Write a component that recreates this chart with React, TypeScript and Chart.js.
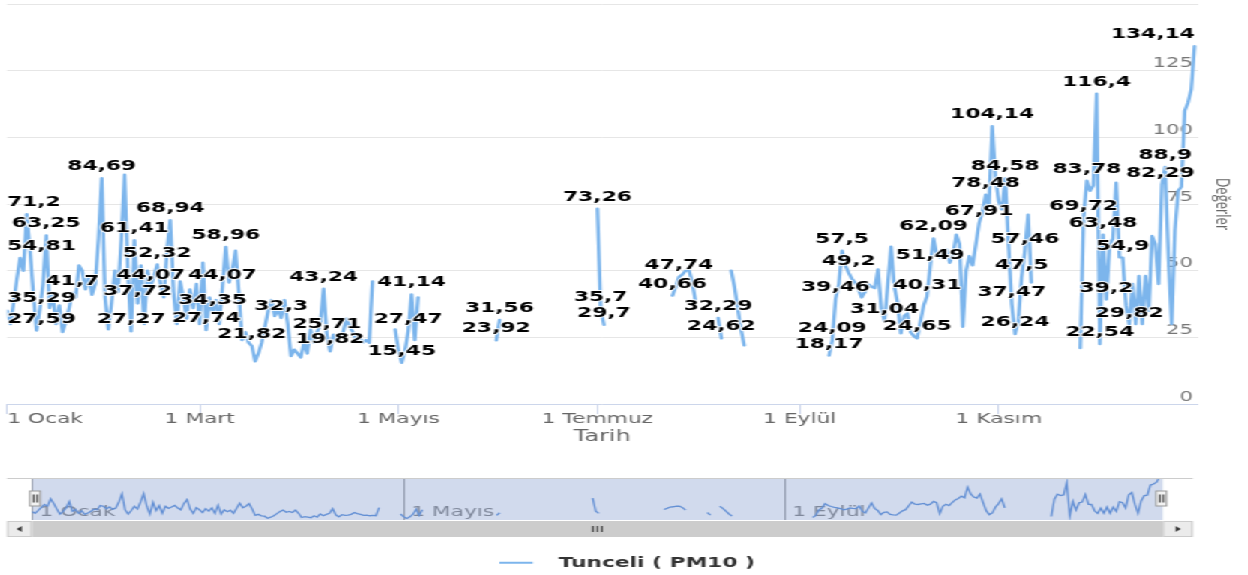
import React, { useEffect, useRef } from 'react';
import { Chart, registerables } from 'chart.js';

Chart.register(...registerables);

// ---------- data (daily PM10, Tunceli; null = no measurement) ----------
const SERIES_NAME = 'Tunceli ( PM10 )';
const X_TITLE = 'Tarih';
const Y_TITLE = 'Değerler';

const JAN = [35, 30, 38, 47, 54.81, 50, 71.2, 58, 42, 27.59, 35.29, 45, 63.25, 36, 41, 30, 37, 27, 31, 36, 41.7, 40, 52, 50, 43, 48, 41, 45, 62, 84.69, 40];
const FEB = [28, 38, 50, 42, 62, 86, 50, 27.27, 61.41, 37.72, 52, 30, 50, 44.07, 48, 52.32, 45, 40, 58, 68.94, 42, 30, 46, 40, 32, 43, 36, 45];
const MAR = [30, 53, 27.74, 40, 34.35, 39, 30, 44.07, 58.96, 45.6, 50, 57.5, 42, 24, 27, 23, 21.82, 16, 19, 23, 29, 35, 39, 33, 35.5, 32.3, 39, 30, 18, 20.4, 19];
const APR = [17.5, 23, 19, 28, 23, 27, 30, 43.24, 25.71, 19.82, 26, 24, 25, 27, 32, 29, 27, 24, 25, 23, 24, 23, 46, null, null, null, null, null, null, 28];
const MAY = [20, 15.45, 20, 27.47, 41.14, 24, 40, null, null, null, null, null, null, null, null, null, null, null, null, null, null, null, null, null, null, null, null, null, null, null, 23.92];
const JUN = [31.56, null, null, null, null, null, null, null, null, null, null, null, null, null, null, null, null, null, null, null, null, null, null, null, null, null, null, null, null, null];
const JUL = [73.26, 35.7, 29.7, null, null, null, null, null, null, null, null, null, null, null, null, null, null, null, null, null, null, null, null, 40.66, 44, 47.74, 48.5, 50, 50.5, 46, 39];
const AUG = [null, null, null, null, null, null, 32.29, 24.62, null, null, 50, 44, 36, 28, 22, null, null, null, null, null, null, null, null, null, null, null, null, null, null, null, null];
const SEP = [null, null, null, null, null, null, null, null, null, 18.17, 24.09, 39.46, 45, 57.5, 52, 49.2, 47, 45.5, 43, 40, 42, 45, 44, 43.5, 50.5, 36, 31.04, 45, 59, 44];
const OCT = [38, 26.5, 33, 34, 27, 25.5, 24.65, 31, 37, 40.31, 51.49, 62.09, 56, 55, 57, 58, 53, 56, 63.5, 60, 29, 50, 55.5, 52, 60, 67.91, 72, 78.48, 74, 104.14, 85];
const NOV = [76, 73, 84.58, 60, 37.47, 26.24, 31, 47.5, 57.46, 71, 45.6, null, null, null, null, null, null, null, null, null, null, null, null, null, null, 21, 69.72, 83.78, 80, 82];
const DEC = [116.4, 22.54, 63.48, 39.2, 60, 62, 83, 55, 54.9, 37, 29.82, 45, 30, 48, 30, 48, 35, 63, 60, 45, 82.29, 88.9, 55, 30, 65, 80, 81.5, 110, 113, 118, 134.14];

// day-of-year indices whose values carry a visible data label
const LABELED_DAYS = [
  4, 6, 9, 10, 12, 20, 29, 38, 39, 40, 44, 46, 50,
  61, 63, 66, 67, 75, 84, 97, 98, 99, 121, 123, 124,
  150, 151, 181, 182, 183, 204, 206, 218, 219,
  252, 253, 254, 256, 258, 269, 279, 282, 283, 284,
  298, 300, 302, 306, 308, 309, 311, 312,
  330, 331, 334, 335, 336, 337, 342, 344, 354, 355, 364,
];

// axis ticks (day of year) and their labels
const MONTH_TICK_DAYS = [0, 59, 120, 181, 243, 304, 365];
const MONTH_TICK_LABELS = ['1 Ocak', '1 Mart', '1 Mayıs', '1 Temmuz', '1 Eylül', '1 Kasım', ''];
const NAV_TICK_DAYS = [0, 120, 243];
const NAV_TICK_LABELS = ['1 Ocak', '1 Mayıs', '1 Eylül'];
const Y_MAX = 150;
const Y_STEP = 25;

const DAILY: (number | null)[] = [...JAN, ...FEB, ...MAR, ...APR, ...MAY, ...JUN, ...JUL, ...AUG, ...SEP, ...OCT, ...NOV, ...DEC];

// ---------- layout / style ----------
const STRETCH = 1.5;
const W = 1248 / STRETCH;
const FONT = 'DejaVu Sans';
const LINE_COLOR = '#7cb5ec';
const EDGE_L = 4.67;
const EDGE_R = 795.3;

const fmt = (v: number) => String(v).replace('.', ',');

const dataLabelPlugin = {
  id: 'pmDataLabels',
  afterDatasetsDraw(chart: any) {
    const meta = chart.getDatasetMeta(0);
    const { ctx, chartArea } = chart;
    ctx.save();
    ctx.font = `bold 14.5px "${FONT}"`;
    ctx.textAlign = 'center';
    ctx.textBaseline = 'alphabetic';
    ctx.lineJoin = 'round';
    for (const d of LABELED_DAYS) {
      const v = DAILY[d];
      const el = meta.data[d];
      if (v == null || !el) continue;
      const text = fmt(v);
      const w = ctx.measureText(text).width;
      let x = el.x;
      x = Math.max(chartArea.left + w / 2, Math.min(chartArea.right - 2 - w / 2, x));
      const y = el.y - 8;
      ctx.strokeStyle = 'rgba(255,255,255,0.9)';
      ctx.lineWidth = 2;
      ctx.strokeText(text, x, y);
      ctx.fillStyle = '#000';
      ctx.fillText(text, x, y);
    }
    ctx.restore();
  },
};

const navigatorPlugin = {
  id: 'navDecor',
  afterDatasetsDraw(chart: any) {
    const { ctx, chartArea: a } = chart;
    ctx.save();
    ctx.fillStyle = 'rgba(102,133,194,0.3)';
    ctx.fillRect(a.left, a.top, a.right - a.left, a.bottom - a.top);
    ctx.restore();
  },
  afterDraw(chart: any) {
    const { ctx, chartArea: a } = chart;
    ctx.save();
    // outline
    ctx.strokeStyle = '#cccccc';
    ctx.lineWidth = 1;
    ctx.beginPath();
    ctx.moveTo(EDGE_L, a.top + 0.5);
    ctx.lineTo(EDGE_R, a.top + 0.5);
    ctx.stroke();

    // scrollbar
    const sy = a.bottom + 1;
    const sh = 16;
    ctx.fillStyle = '#f2f2f2';
    ctx.fillRect(EDGE_L, sy, EDGE_R - EDGE_L, sh);
    ctx.fillStyle = '#cccccc';
    ctx.fillRect(a.left, sy, a.right - a.left, sh);
    ctx.fillStyle = '#ebebeb';
    ctx.strokeStyle = '#cccccc';
    ctx.fillRect(EDGE_L, sy, a.left - EDGE_L, sh);
    ctx.strokeRect(EDGE_L + 0.5, sy + 0.5, a.left - EDGE_L - 1, sh - 1);
    ctx.fillRect(a.right, sy, EDGE_R - a.right, sh);
    ctx.strokeRect(a.right + 0.5, sy + 0.5, EDGE_R - a.right - 1, sh - 1);
    const cy = sy + sh / 2;
    ctx.fillStyle = '#333';
    const lx = (EDGE_L + a.left) / 2;
    ctx.beginPath();
    ctx.moveTo(lx - 2, cy);
    ctx.lineTo(lx + 1.5, cy - 3);
    ctx.lineTo(lx + 1.5, cy + 3);
    ctx.closePath();
    ctx.fill();
    const rx = (EDGE_R + a.right) / 2;
    ctx.beginPath();
    ctx.moveTo(rx + 2, cy);
    ctx.lineTo(rx - 1.5, cy - 3);
    ctx.lineTo(rx - 1.5, cy + 3);
    ctx.closePath();
    ctx.fill();
    // grip
    const gx = (a.left + a.right) / 2;
    ctx.strokeStyle = '#333';
    ctx.lineWidth = 1;
    for (const dx of [-3, 0, 3]) {
      ctx.beginPath();
      ctx.moveTo(gx + dx, cy - 3);
      ctx.lineTo(gx + dx, cy + 3);
      ctx.stroke();
    }

    // handles
    const hy = (a.top + a.bottom) / 2 - 0.5;
    for (const hx of [a.left + 2, a.right - 1]) {
      ctx.fillStyle = '#f2f2f2';
      ctx.strokeStyle = '#999';
      ctx.fillRect(hx - 3.5, hy - 7.5, 7, 15);
      ctx.strokeRect(hx - 3.5, hy - 7.5, 7, 15);
      ctx.strokeStyle = '#333';
      ctx.beginPath();
      ctx.moveTo(hx - 1, hy - 4);
      ctx.lineTo(hx - 1, hy + 4);
      ctx.moveTo(hx + 1.5, hy - 4);
      ctx.lineTo(hx + 1.5, hy + 4);
      ctx.stroke();
    }
    ctx.restore();
  },
};

export default function App() {
  const mainRef = useRef<HTMLCanvasElement | null>(null);
  const navRef = useRef<HTMLCanvasElement | null>(null);

  useEffect(() => {
    if (!mainRef.current || !navRef.current) return;
    const points = DAILY.map((v, i) => ({ x: i, y: v }));

    const sym = document.createElement('canvas');
    sym.width = 32;
    sym.height = 4;
    const sctx = sym.getContext('2d');
    if (sctx) {
      sctx.strokeStyle = LINE_COLOR;
      sctx.lineWidth = 2;
      sctx.beginPath();
      sctx.moveTo(0, 2);
      sctx.lineTo(22, 2);
      sctx.stroke();
    }

    const main = new Chart(mainRef.current, {
      type: 'line',
      data: {
        datasets: [
          {
            label: SERIES_NAME,
            data: points as any,
            borderColor: LINE_COLOR,
            backgroundColor: LINE_COLOR,
            borderWidth: 2.4,
            pointRadius: 0,
            pointHoverRadius: 0,
            tension: 0,
            borderJoinStyle: 'round',
            borderCapStyle: 'round',
            fill: false,
            spanGaps: false,
          },
        ],
      },
      options: {
        animation: false,
        responsive: true,
        maintainAspectRatio: false,
        events: [],
        layout: { padding: { left: EDGE_L, right: 0, top: 4, bottom: 0 } },
        scales: {
          x: {
            type: 'linear',
            min: 0,
            max: 365,
            afterBuildTicks: (s: any) => {
              s.ticks = MONTH_TICK_DAYS.map((v) => ({ value: v }));
            },
            afterFit: (s: any) => {
              s.paddingLeft = 0;
              s.paddingRight = 0;
            },
            ticks: {
              autoSkip: false,
              maxRotation: 0,
              align: 'inner',
              padding: -3.4,
              color: '#666',
              font: { family: FONT, size: 14.5 },
              callback: (v: any) => {
                const i = MONTH_TICK_DAYS.indexOf(Number(v));
                return i >= 0 ? MONTH_TICK_LABELS[i] : '';
              },
            },
            grid: {
              display: true,
              drawOnChartArea: false,
              drawTicks: true,
              tickLength: 10,
              tickColor: (c: any) => (c.tick && c.tick.value === 365 ? 'rgba(0,0,0,0)' : '#ccd6eb'),
            },
            border: { display: true, color: '#ccd6eb', width: 1 },
            title: {
              display: true,
              text: X_TITLE,
              color: '#666',
              font: { family: FONT, size: 16 },
              padding: { top: 2.7, bottom: 98.9 },
            },
          },
          y: {
            position: 'right',
            min: 0,
            max: Y_MAX,
            afterFit: (s: any) => {
              s.paddingTop = 0;
              s.paddingBottom = 0;
            },
            ticks: {
              stepSize: Y_STEP,
              mirror: true,
              padding: -3.3,
              labelOffset: -7,
              color: '#777',
              font: { family: FONT, size: 14 },
              callback: (v: any) => (Number(v) === Y_MAX ? '' : String(v)),
            },
            grid: { color: '#e6e6e6', drawTicks: false },
            border: { display: false },
            title: {
              display: true,
              text: Y_TITLE,
              color: '#666',
              font: { family: 'Open Sans', size: 13 },
              padding: { top: 9.5, bottom: 14.9 },
            },
          },
        },
        plugins: {
          legend: {
            display: true,
            position: 'bottom',
            labels: {
              usePointStyle: true,
              pointStyle: sym as any,
              pointStyleWidth: 32,
              color: '#333',
              font: { family: FONT, size: 14.5, weight: 'bold' },
              padding: 10,
            },
          },
          tooltip: { enabled: false },
        },
      } as any,
      plugins: [dataLabelPlugin],
    });

    const nav = new Chart(navRef.current, {
      type: 'line',
      data: {
        datasets: [
          {
            label: SERIES_NAME,
            data: points as any,
            borderColor: '#6496dc',
            borderWidth: 1.3,
            pointRadius: 0,
            tension: 0,
            fill: false,
            spanGaps: false,
          },
        ],
      },
      options: {
        animation: false,
        responsive: true,
        maintainAspectRatio: false,
        events: [],
        layout: { padding: { left: 21.3, right: W - 775.3, top: 8, bottom: 0 } },
        scales: {
          x: {
            type: 'linear',
            min: 0,
            max: 365,
            afterBuildTicks: (s: any) => {
              s.ticks = NAV_TICK_DAYS.map((v) => ({ value: v }));
            },
            afterFit: (s: any) => {
              s.height = 20;
              s.paddingLeft = 0;
              s.paddingRight = 0;
            },
            ticks: {
              autoSkip: false,
              maxRotation: 0,
              align: 'start',
              mirror: true,
              padding: -0.7,
              labelOffset: 5,
              color: '#8a8a8a',
              font: { family: FONT, size: 14.5 },
              callback: (v: any) => {
                const i = NAV_TICK_DAYS.indexOf(Number(v));
                return i >= 0 ? NAV_TICK_LABELS[i] : '';
              },
            },
            grid: { display: true, drawTicks: false, drawOnChartArea: true, color: '#aaaaaa' },
            border: { display: false },
          },
          y: { display: false, min: 11, max: 130 },
        },
        plugins: { legend: { display: false }, tooltip: { enabled: false } },
      } as any,
      plugins: [navigatorPlugin],
    });

    return () => {
      main.destroy();
      nav.destroy();
    };
  }, []);

  return (
    <div style={{ position: 'fixed', left: 0, top: 0, width: 1248, height: 575, overflow: 'hidden', background: '#fff' }}>
      <div style={{ position: 'absolute', left: 0, top: 0, width: W, height: 580, transform: `scaleX(${STRETCH})`, transformOrigin: '0 0' }}>
        <div style={{ position: 'absolute', left: 0, top: 0, width: W, height: 580 }}>
          <canvas ref={mainRef} />
        </div>
        <div style={{ position: 'absolute', left: 0, top: 470, width: W, height: 70 }}>
          <canvas ref={navRef} />
        </div>
      </div>
    </div>
  );
}
